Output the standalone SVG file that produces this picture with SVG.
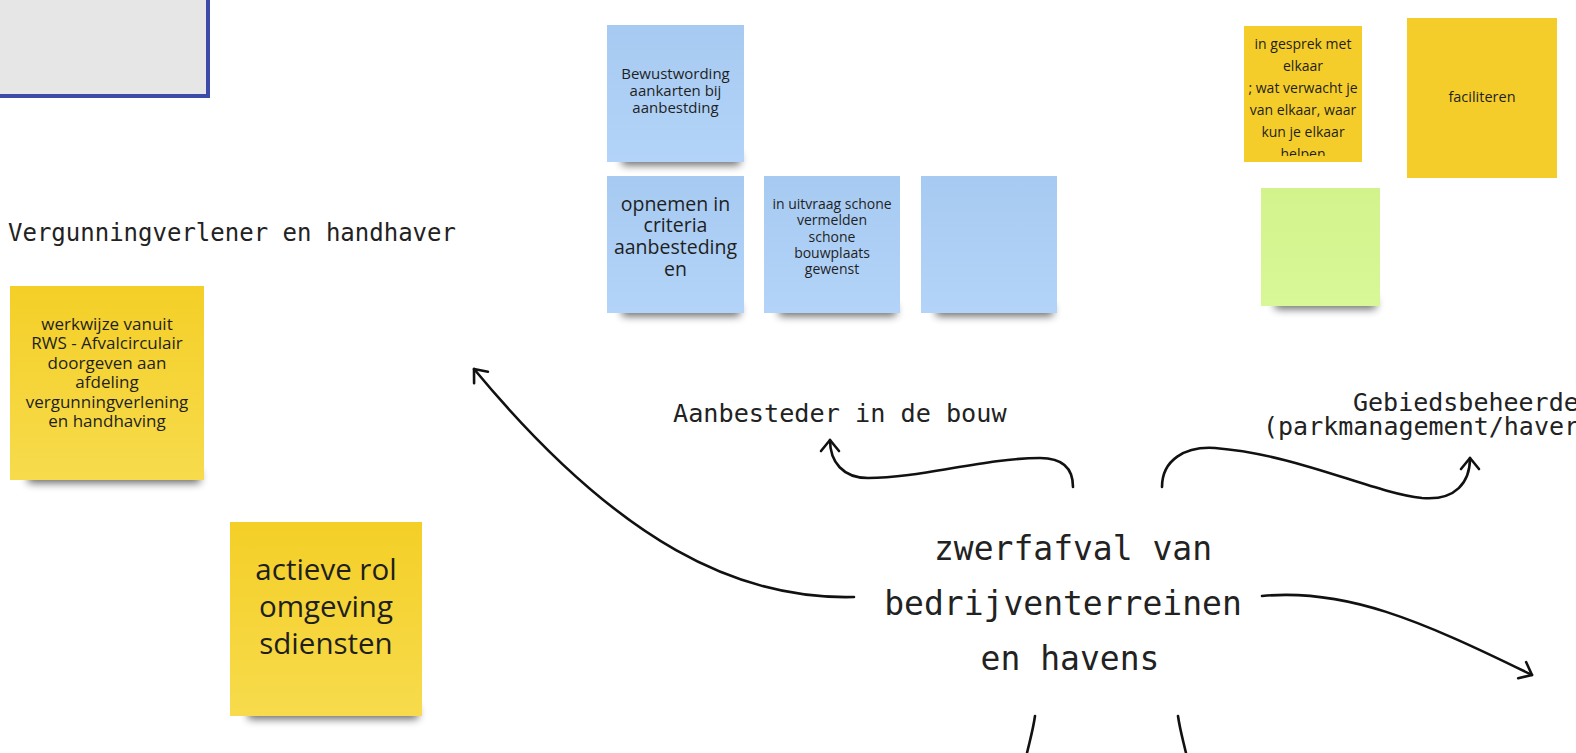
<svg xmlns="http://www.w3.org/2000/svg" width="1576" height="753" viewBox="0 0 1576 753">
<defs>
<style>
.st{font-family:"Open Sans","Noto Sans",sans-serif;fill:#1f1f1f;text-anchor:middle}
.mono{font-family:"DejaVu Sans Mono","Liberation Mono",monospace;fill:#222}
.con{fill:none;stroke:#111;stroke-width:2.6;stroke-linecap:round}
.sh{fill:#000;opacity:.6;filter:url(#blur)}
</style>
<filter id="blur" x="-20%" y="-100%" width="140%" height="300%"><feGaussianBlur stdDeviation="4"/></filter>
<linearGradient id="gBlue" x1="0" y1="0" x2="0" y2="1"><stop offset="0" stop-color="#a7caf2"/><stop offset="1" stop-color="#b3d4f8"/></linearGradient>
<linearGradient id="gYel" x1="0" y1="0" x2="0" y2="1"><stop offset="0" stop-color="#f4cf27"/><stop offset="1" stop-color="#f7db4c"/></linearGradient>
<linearGradient id="gGreen" x1="0" y1="0" x2="0" y2="1"><stop offset="0" stop-color="#d2f38c"/><stop offset="1" stop-color="#d8f797"/></linearGradient>
<clipPath id="clipA"><rect x="1244" y="26" width="118" height="130"/></clipPath>
<marker id="arr" markerWidth="24" markerHeight="24" refX="0" refY="0" viewBox="-14 -12 24 24" orient="auto" markerUnits="userSpaceOnUse"><path d="M-11 -9 L0 0 L-11 9" fill="none" stroke="#111" stroke-width="2.6" stroke-linecap="round" stroke-linejoin="round"/></marker>
</defs>
<rect width="1576" height="753" fill="#ffffff"/>

<g id="frame-topleft">
<rect x="-10" y="-10" width="218" height="106" fill="#e6e6e6" stroke="#3e4aa8" stroke-width="4"/>
</g>

<g id="label-vergunning"><text class="mono" x="8" y="241" font-size="24">Vergunningverlener en handhaver</text></g>
<g id="label-aanbesteder"><text class="mono" x="673" y="422" font-size="25.2">Aanbesteder in de bouw</text></g>
<g id="label-gebied">
<text class="mono" x="1353" y="411" font-size="25">Gebiedsbeheerde</text>
<text class="mono" x="1263" y="435" font-size="25">(parkmanagement/haver</text>
</g>
<g id="center-node">
<text class="mono" x="1073" y="560" font-size="33" text-anchor="middle">zwerfafval van</text>
<text class="mono" x="1063" y="615" font-size="33" text-anchor="middle">bedrijventerreinen</text>
<text class="mono" x="1070" y="670" font-size="33" text-anchor="middle">en havens</text>
</g>

<g id="sticky-bewustwording">
<rect class="sh" x="622" y="154" width="118" height="11"/>
<rect x="607" y="25" width="137" height="137" fill="url(#gBlue)"/>
<text class="st" font-size="15"><tspan x="675.5" y="78.7">Bewustwording</tspan><tspan x="675.5" y="96">aankarten bij</tspan><tspan x="675.5" y="113.3">aanbestding</tspan></text>
</g>
<g id="sticky-opnemen">
<rect class="sh" x="622" y="305" width="118" height="11"/>
<rect x="607" y="176" width="137" height="137" fill="url(#gBlue)"/>
<text class="st" font-size="19.5"><tspan x="675.5" y="210.5">opnemen in</tspan><tspan x="675.5" y="232.3">criteria</tspan><tspan x="675.5" y="254.1">aanbesteding</tspan><tspan x="675.5" y="275.9">en</tspan></text>
</g>
<g id="sticky-uitvraag">
<rect class="sh" x="779" y="305" width="117" height="11"/>
<rect x="764" y="176" width="136" height="137" fill="url(#gBlue)"/>
<text class="st" font-size="14"><tspan x="832" y="209">in uitvraag schone</tspan><tspan x="832" y="225.3">vermelden</tspan><tspan x="832" y="241.6">schone</tspan><tspan x="832" y="257.9">bouwplaats</tspan><tspan x="832" y="274.2">gewenst</tspan></text>
</g>
<g id="sticky-blue-empty">
<rect class="sh" x="936" y="305" width="117" height="11"/>
<rect x="921" y="176" width="136" height="137" fill="url(#gBlue)"/>
</g>

<g id="sticky-gesprek">
<rect x="1244" y="26" width="118" height="136" fill="#f5cd2a"/>
<g clip-path="url(#clipA)">
<text class="st" font-size="14"><tspan x="1303" y="49">in gesprek met</tspan><tspan x="1303" y="71">elkaar</tspan><tspan x="1303" y="93">; wat verwacht je</tspan><tspan x="1303" y="115">van elkaar, waar</tspan><tspan x="1303" y="137">kun je elkaar</tspan><tspan x="1303" y="159">helpen</tspan></text>
</g>
</g>
<g id="sticky-faciliteren">
<rect x="1407" y="18" width="150" height="160" fill="#f5cd2a"/>
<text class="st" font-size="14.5" x="1482" y="102">faciliteren</text>
</g>
<g id="sticky-green">
<rect class="sh" x="1275" y="299" width="101" height="10"/>
<rect x="1261" y="188" width="119" height="118" fill="url(#gGreen)"/>
</g>

<g id="sticky-werkwijze">
<rect class="sh" x="28" y="471" width="172" height="12"/>
<rect x="10" y="286" width="194" height="194" fill="url(#gYel)"/>
<text class="st" font-size="17"><tspan x="107" y="329.5">werkwijze vanuit</tspan><tspan x="107" y="349">RWS - Afvalcirculair</tspan><tspan x="107" y="368.5">doorgeven aan</tspan><tspan x="107" y="388">afdeling</tspan><tspan x="107" y="407.5">vergunningverlening</tspan><tspan x="107" y="427">en handhaving</tspan></text>
</g>
<g id="sticky-actieve">
<rect class="sh" x="248" y="707" width="170" height="12"/>
<rect x="230" y="522" width="192" height="194" fill="url(#gYel)"/>
<text class="st" font-size="29.5"><tspan x="326" y="580">actieve rol</tspan><tspan x="326" y="617">omgeving</tspan><tspan x="326" y="654">sdiensten</tspan></text>
</g>

<g id="connectors">
<path class="con" d="M854 597 C740 600 620 545 474 369" marker-end="url(#arr)"/>
<path class="con" d="M1073 487 C1073 468 1062 458 1040 458 C985 458 920 478 868 478 C843 478 830 462 830 440" marker-end="url(#arr)"/>
<path class="con" d="M1162 487 C1162 460 1185 446 1215 448 C1300 455 1370 492 1422 498 C1456 501 1470 482 1470 458" marker-end="url(#arr)"/>
<path class="con" d="M1262 596 C1345 588 1420 620 1532 675" marker-end="url(#arr)"/>
<path class="con" d="M1035 716 C1033 730 1030 740 1027 753"/>
<path class="con" d="M1178 716 C1180 730 1183 740 1186 753"/>
</g>
</svg>
